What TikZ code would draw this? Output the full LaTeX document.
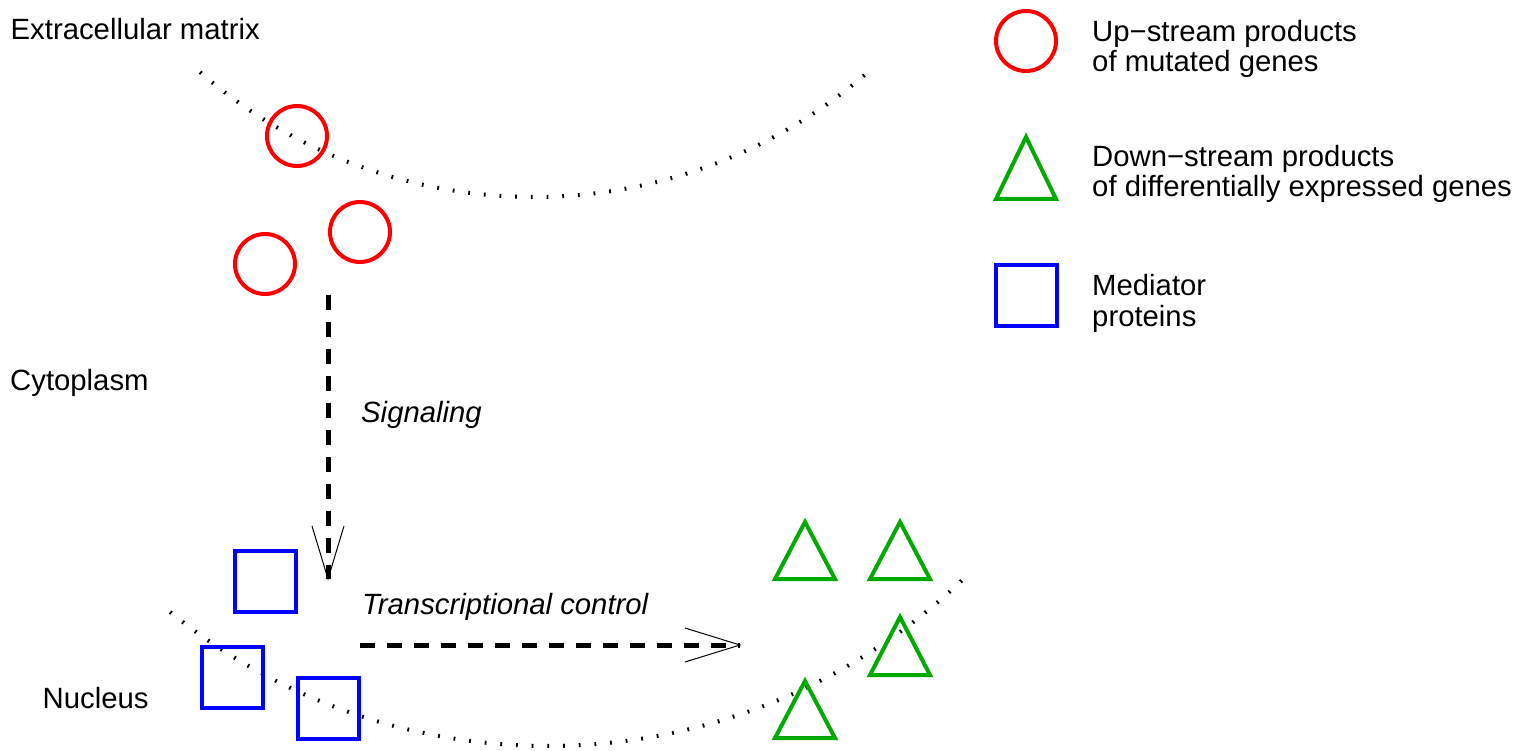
\documentclass[tikz,border=0pt]{standalone}
\usepackage{fontspec}
\setmainfont{Liberation Sans}
\usetikzlibrary{calc}
\definecolor{upred}{RGB}{255,0,0}
\definecolor{dsgreen}{RGB}{0,170,0}
\definecolor{medblue}{RGB}{0,0,255}
\tikzset{
  upcircle/.style={circle, draw=upred, line width=4pt, minimum size=60pt, inner sep=0pt},
  medbox/.style={rectangle, draw=medblue, line width=4pt, minimum size=61pt, inner sep=0pt},
  dstri/.style={draw=dsgreen, line width=4pt, line join=miter},
  membrane/.style={line width=4pt, dash pattern=on 1.8pt off 13.9pt},
  flow/.style={line width=5pt, dash pattern=on 15pt off 12pt},
  flowhead/.style={line width=1pt},
  lbl/.style={anchor=base west, inner sep=0pt, font=\fontsize{29.3}{33}\selectfont},
  ilbl/.style={lbl, font=\fontsize{29.3}{33}\selectfont\itshape},
}
\begin{document}
\begin{tikzpicture}[x=1pt,y=-1pt]
\useasboundingbox (0,0) rectangle (1538,751);
% membranes
\draw[membrane] (534,-312) ++(131:509) arc[start angle=131, end angle=49.5, radius=509];
\draw[membrane] (548,146) ++(129.04:600) arc[start angle=129.04, end angle=46.28, radius=600];
% compartment labels
\node[lbl] (ecm) at (10.5,40) {Extracellular matrix};
\node[lbl] (cyto) at (10,390.5) {Cytoplasm};
\node[lbl] (nuc) at (42.5,708.3) {Nucleus};
% up-stream products
\node[upcircle] (u1) at (297,136) {};
\node[upcircle] (u2) at (360,232) {};
\node[upcircle] (u3) at (265,264) {};
% mediators
\node[medbox] (m1) at (265,581) {};
\node[medbox] (m2) at (232,677) {};
\node[medbox] (m3) at (328,708) {};
% down-stream products
\draw[dstri] (775,579) -- (805,522) -- (835,579) -- cycle;
\draw[dstri] (870,579) -- (900,522) -- (930,579) -- cycle;
\draw[dstri] (870,675) -- (900,617) -- (930,675) -- cycle;
\draw[dstri] (775,738) -- (805,681) -- (835,738) -- cycle;
% signaling
\coordinate (sigA) at (328,295);
\coordinate (sigB) at (328,579);
\draw[flow] (sigA) -- (sigB);
\draw[flowhead] ($(sigB)+(-16,-53)$) -- (sigB) -- ($(sigB)+(16,-53)$);
\node[ilbl] (sig) at (361,422) {Signaling};
% transcriptional control
\coordinate (trA) at (360,645);
\coordinate (trB) at (740,645);
\draw[flow] (trA) -- (trB);
\draw[flowhead] ($(trB)+(-55,-17)$) -- (trB) -- ($(trB)+(-55,17)$);
\node[ilbl] (tr) at (362,614.5) {Transcriptional control};
% legend
\node[upcircle] (legU) at (1026,41) {};
\draw[dstri] (996,199) -- (1026,137) -- (1056,199) -- cycle;
\node[medbox] (legM) at (1026,295.5) {};
\node[lbl] (legU1) at (1092,41.5) {Up\char"2212 stream products};
\node[lbl] (legU2) at (1092,72) {of mutated genes};
\node[lbl] (legD1) at (1092,166.7) {Down\char"2212 stream products};
\node[lbl] (legD2) at (1092,197) {of differentially expressed genes};
\node[lbl] (legM1) at (1092,295) {Mediator};
\node[lbl] (legM2) at (1092,326) {proteins};
\end{tikzpicture}
\end{document}
